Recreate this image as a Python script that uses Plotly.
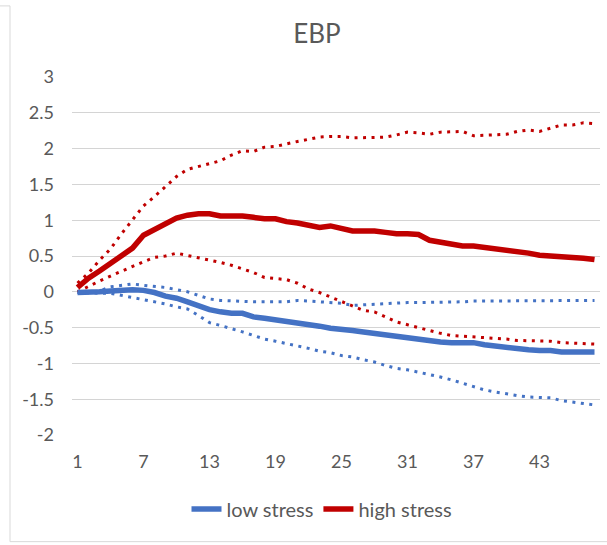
import plotly.graph_objects as go

periods = list(range(1, 49))

low_stress = [-0.01, -0.01, 0.00, 0.01, 0.02, 0.03, 0.02, -0.01, -0.06, -0.09,
              -0.14, -0.20, -0.25, -0.28, -0.30, -0.30, -0.35, -0.37, -0.39, -0.41,
              -0.43, -0.46, -0.48, -0.51, -0.52, -0.54, -0.56, -0.58, -0.61, -0.62,
              -0.64, -0.66, -0.69, -0.70, -0.71, -0.71, -0.71, -0.74, -0.76, -0.78,
              -0.80, -0.81, -0.82, -0.82, -0.84, -0.84, -0.84, -0.84]
low_upper = [-0.01, 0.00, 0.01, 0.07, 0.09, 0.11, 0.09, 0.08, 0.06, 0.03,
             0.00, -0.05, -0.10, -0.12, -0.13, -0.14, -0.14, -0.14, -0.14, -0.14,
             -0.12, -0.13, -0.14, -0.15, -0.16, -0.19, -0.18, -0.18, -0.17, -0.15,
             -0.15, -0.15, -0.15, -0.15, -0.15, -0.14, -0.13, -0.13, -0.13, -0.13,
             -0.13, -0.13, -0.12, -0.12, -0.12, -0.12, -0.12, -0.12]
low_lower = [-0.01, -0.02, -0.02, -0.02, -0.05, -0.07, -0.10, -0.13, -0.17, -0.21,
             -0.24, -0.33, -0.43, -0.47, -0.51, -0.56, -0.61, -0.66, -0.69, -0.72,
             -0.76, -0.79, -0.83, -0.85, -0.89, -0.91, -0.95, -0.98, -1.03, -1.07,
             -1.09, -1.12, -1.16, -1.19, -1.23, -1.28, -1.33, -1.37, -1.40, -1.43,
             -1.45, -1.47, -1.47, -1.48, -1.52, -1.54, -1.56, -1.58]

high_stress = [0.06, 0.19, 0.29, 0.40, 0.49, 0.61, 0.79, 0.87, 0.94, 1.03,
               1.07, 1.09, 1.09, 1.06, 1.06, 1.06, 1.04, 1.02, 1.02, 0.98,
               0.96, 0.93, 0.90, 0.92, 0.88, 0.85, 0.85, 0.85, 0.83, 0.81,
               0.81, 0.80, 0.72, 0.69, 0.66, 0.64, 0.64, 0.62, 0.61, 0.58,
               0.56, 0.54, 0.51, 0.50, 0.49, 0.49, 0.47, 0.45]
high_upper = [0.12, 0.26, 0.44, 0.60, 0.81, 1.00, 1.20, 1.33, 1.47, 1.61,
              1.71, 1.75, 1.78, 1.83, 1.91, 1.97, 1.96, 2.02, 2.03, 2.07,
              2.10, 2.13, 2.16, 2.17, 2.17, 2.15, 2.15, 2.15, 2.16, 2.19,
              2.23, 2.22, 2.20, 2.23, 2.23, 2.24, 2.18, 2.19, 2.19, 2.20,
              2.24, 2.26, 2.24, 2.28, 2.33, 2.33, 2.36, 2.35]
high_lower = [0.00, 0.08, 0.15, 0.22, 0.29, 0.35, 0.42, 0.48, 0.50, 0.54,
              0.51, 0.47, 0.44, 0.41, 0.37, 0.32, 0.27, 0.20, 0.19, 0.17,
              0.12, 0.04, -0.01, -0.07, -0.14, -0.20, -0.26, -0.28, -0.35, -0.42,
              -0.46, -0.50, -0.55, -0.58, -0.61, -0.62, -0.62, -0.63, -0.65, -0.66,
              -0.68, -0.68, -0.68, -0.69, -0.71, -0.72, -0.72, -0.73]

x_ticks = [1, 7, 13, 19, 25, 31, 37, 43]
y_ticks = [3, 2.5, 2, 1.5, 1, 0.5, 0, -0.5, -1, -1.5, -2]
y_tick_labels = ["3", "2.5", "2", "1.5", "1", "0.5", "0", "-0.5", "-1", "-1.5", "-2"]

BLUE = "#4472C4"
RED = "#C00000"
DOT = "3px,5.5px"

fig = go.Figure()
fig.add_trace(go.Scatter(x=periods, y=low_upper, mode="lines", showlegend=False,
                         line=dict(color=BLUE, width=3, dash=DOT), hoverinfo="skip"))
fig.add_trace(go.Scatter(x=periods, y=low_lower, mode="lines", showlegend=False,
                         line=dict(color=BLUE, width=3, dash=DOT), hoverinfo="skip"))
fig.add_trace(go.Scatter(x=periods, y=high_upper, mode="lines", showlegend=False,
                         line=dict(color=RED, width=3, dash=DOT), hoverinfo="skip"))
fig.add_trace(go.Scatter(x=periods, y=high_lower, mode="lines", showlegend=False,
                         line=dict(color=RED, width=3, dash=DOT), hoverinfo="skip"))
fig.add_trace(go.Scatter(x=periods, y=low_stress, mode="lines", name="low stress",
                         line=dict(color=BLUE, width=5.5)))
fig.add_trace(go.Scatter(x=periods, y=high_stress, mode="lines", name="high stress",
                         line=dict(color=RED, width=5.5)))

FONT = "Lato, 'Open Sans', sans-serif"
GRAY = "#595959"
GRID = "#d9d9d9"

fig.update_layout(
    width=607, height=545,
    margin=dict(l=72, r=7, t=77, b=110, autoexpand=False),
    paper_bgcolor="white", plot_bgcolor="white",
    font=dict(family=FONT, color=GRAY, size=18),
    title=dict(text="EBP", x=317 / 607, xanchor="center", xref="container",
               y=1 - 34 / 545, yanchor="middle", yref="container",
               font=dict(size=26, color=GRAY, family=FONT)),
    xaxis=dict(range=[0.5, 48.5], tickvals=x_ticks, showgrid=False, zeroline=False,
               showline=False, ticks="", ticklabelstandoff=14, automargin=False,
               tickfont=dict(size=18, color=GRAY)),
    yaxis=dict(range=[-2, 3], tickmode="array", tickvals=y_ticks, ticktext=y_tick_labels,
               showgrid=True, gridcolor="#d4d4d4", gridwidth=1.3, zeroline=False,
               showline=False, ticks="", ticklabelstandoff=17, automargin=False,
               layer="below traces",
               tickfont=dict(size=18, color=GRAY)),
    legend=dict(orientation="h", xref="container", yref="container",
                x=322 / 607, xanchor="center", y=1 - 509 / 545, yanchor="middle",
                font=dict(size=20, color=GRAY), traceorder="normal"),
    showlegend=True,
)

# chart frame (light border on left/bottom as in the reference)
px0, pw = 72, 528
py1, ph = 434.5, 357.5
def xp(p):
    return (p - px0) / pw
def yp(p):
    return (py1 - p) / ph
border = dict(color=GRID, width=1)
fig.add_shape(type="line", xref="paper", yref="paper", x0=xp(10), x1=xp(10),
              y0=yp(6), y1=yp(541), line=border)
fig.add_shape(type="line", xref="paper", yref="paper", x0=xp(10), x1=xp(607),
              y0=yp(541), y1=yp(541), line=border)
fig.add_shape(type="line", xref="paper", yref="paper", x0=xp(0), x1=xp(10),
              y0=yp(6), y1=yp(6), line=border)

fig.write_html("out.html", config={"displayModeBar": False},
               post_script="document.body.style.margin='0';document.body.style.padding='0';")
